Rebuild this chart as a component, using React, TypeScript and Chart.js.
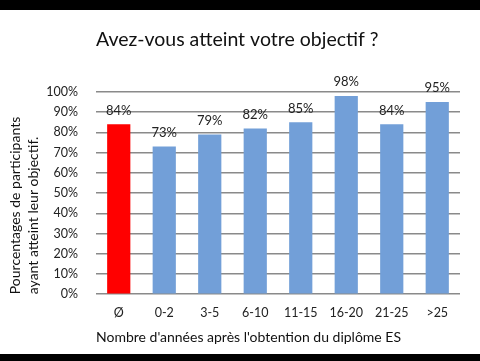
import React, { useEffect, useRef } from "react";
import { Chart, registerables } from "chart.js";

Chart.register(...registerables);

const categories = ["Ø", "0-2", "3-5", "6-10", "11-15", "16-20", "21-25", ">25"];
const values = [84, 73, 79, 82, 85, 98, 84, 95];
const barColors = ["#ff0000", "#729fd8", "#729fd8", "#729fd8", "#729fd8", "#729fd8", "#729fd8", "#729fd8"];
const titleText = "Avez-vous atteint votre objectif ?";
const yTitle = ["Pourcentages de participants", "ayant atteint leur objectif."];
const xTitle = "Nombre d'années après l'obtention du diplôme ES";

const FONT = "Lato, 'Open Sans', sans-serif";

const labelPlugin = {
  id: "valueLabels",
  afterDatasetsDraw(chart: any) {
    const ctx = chart.ctx;
    const meta = chart.getDatasetMeta(0);
    ctx.save();
    ctx.font = `13px ${FONT}`;
    ctx.fillStyle = "#222";
    ctx.textAlign = "center";
    ctx.textBaseline = "middle";
    meta.data.forEach((bar: any, i: number) => {
      ctx.fillText(values[i] + "%", bar.x, bar.y - 14);
    });
    ctx.restore();
  },
};

const titlePlugin = {
  id: "leftTitle",
  afterDraw(chart: any) {
    const ctx = chart.ctx;
    ctx.save();
    ctx.font = `19.5px ${FONT}`;
    ctx.fillStyle = "#111";
    ctx.textAlign = "left";
    ctx.textBaseline = "middle";
    ctx.fillText(titleText, chart.chartArea.left, 40);
    ctx.restore();
  },
};

export default function App() {
  const ref = useRef<HTMLCanvasElement | null>(null);
  useEffect(() => {
    document.body.style.margin = "0";
    if (!ref.current) return;
    const chart = new Chart(ref.current, {
      type: "bar",
      data: {
        labels: categories,
        datasets: [
          {
            data: values,
            backgroundColor: barColors,
            barPercentage: 1,
            categoryPercentage: 0.51,
          },
        ],
      },
      options: {
        animation: false,
        responsive: false,
        maintainAspectRatio: false,
        layout: { padding: { top: 92, left: 7, right: 20, bottom: 15 } },
        plugins: {
          legend: { display: false },
          tooltip: { enabled: false },
          title: { display: false },
        },
        scales: {
          x: {
            grid: { display: false },
            border: { display: false },
            ticks: { color: "#222", font: { family: FONT, size: 12.5 }, padding: 3 },
            title: {
              display: true,
              text: xTitle,
              align: "start",
              color: "#111",
              font: { family: FONT, size: 14 },
              padding: { top: 6, bottom: 0 },
            },
          },
          y: {
            min: 0,
            max: 100,
            afterFit: (scale: any) => {
              scale.width = 89;
            },
            grid: { color: "#8a8a8a", lineWidth: 1.5, drawTicks: false },
            border: { display: false },
            ticks: {
              stepSize: 10,
              color: "#222",
              font: { family: FONT, size: 12.5 },
              padding: 18,
              callback: (v: any) => v + "%",
            },
            title: {
              display: true,
              text: yTitle,
              align: "start",
              color: "#111",
              font: { family: FONT, size: 14, lineHeight: 1.25 },
              padding: { top: 0, bottom: 6 },
            },
          },
        },
      },
      plugins: [labelPlugin, titlePlugin],
    });
    return () => chart.destroy();
  }, []);

  return (
    <div style={{ position: "relative", width: 480, height: 361, background: "#fff", overflow: "hidden" }}>
      <canvas ref={ref} width={480} height={361} style={{ position: "absolute", left: 0, top: 0 }} />
      <div style={{ position: "absolute", left: 0, top: 0, width: 480, height: 10, background: "#000" }} />
      <div style={{ position: "absolute", left: 0, top: 354, width: 480, height: 7, background: "#000" }} />
    </div>
  );
}
